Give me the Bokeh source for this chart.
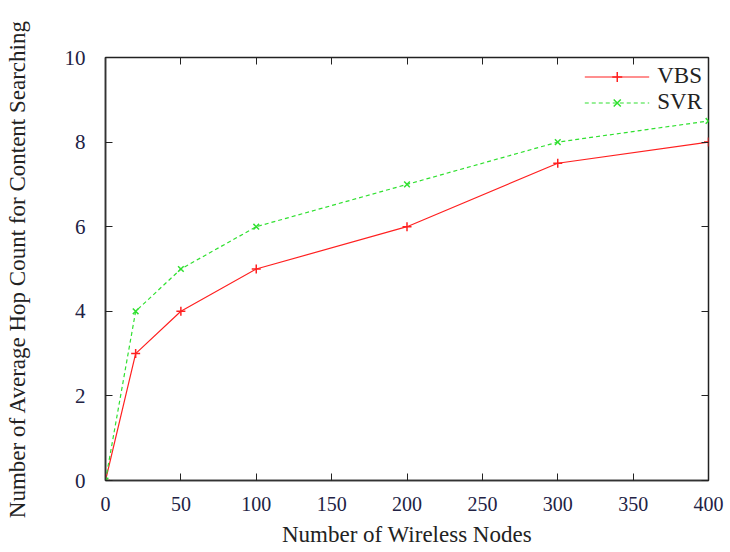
from bokeh.plotting import figure
from bokeh.models import Range1d, LinearAxis, FixedTicker, Legend, LegendItem, CustomJSTickFormatter
from bokeh.embed import file_html
from bokeh.resources import INLINE

nodes = [0, 20, 50, 100, 200, 300, 400]
vbs = [0, 3, 4, 5, 6, 7.5, 8]
svr = [0, 4, 5, 6, 7, 8, 8.5]
x_ticks = [0, 50, 100, 150, 200, 250, 300, 350, 400]
y_ticks = [0, 2, 4, 6, 8, 10]

W, H = 724, 552
p = figure(width=W, height=H, output_backend="svg", toolbar_location=None,
           x_range=Range1d(0, 400), y_range=Range1d(0, 10),
           min_border_left=105, min_border_right=W - 708, min_border_top=57,
           min_border_bottom=H - 480)
p.xgrid.visible = False
p.ygrid.visible = False
p.outline_line_color = "#222222"
p.outline_line_width = 1.5

serif = "Liberation Serif"

for ax in (p.xaxis[0], p.yaxis[0]):
    ax.major_tick_in = 7
    ax.major_tick_out = 0
    ax.minor_tick_line_color = None
    ax.axis_line_color = "#333333"
    ax.axis_line_width = 1.5
    ax.major_tick_line_color = "#222222"
    ax.axis_label_text_font_style = "normal"
    ax.axis_label_text_font = serif
    ax.axis_label_text_font_size = "23px"
    ax.axis_label_text_color = "#222222"
    ax.major_label_text_color = "#222244"
    ax.major_label_text_font = serif

p.xaxis[0].ticker = FixedTicker(ticks=x_ticks)
p.yaxis[0].ticker = FixedTicker(ticks=y_ticks)
p.xaxis[0].major_label_text_font_size = "20px"
p.yaxis[0].major_label_text_font_size = "21px"
p.xaxis[0].major_label_standoff = 16
p.yaxis[0].major_label_standoff = 20
p.xaxis[0].axis_label = "Number of Wireless Nodes"
p.yaxis[0].axis_label = "Number of Average Hop Count for Content Searching"
p.xaxis[0].axis_label_standoff = 8
p.yaxis[0].axis_label_standoff = 32

blank = CustomJSTickFormatter(code="return ''")
top = LinearAxis(ticker=FixedTicker(ticks=x_ticks), formatter=blank,
                 major_tick_in=7, major_tick_out=0, minor_tick_line_color=None,
                 axis_line_color=None, major_label_standoff=0, major_tick_line_color="#222222")
right = LinearAxis(ticker=FixedTicker(ticks=y_ticks), formatter=blank,
                   major_tick_in=7, major_tick_out=0, minor_tick_line_color=None,
                   axis_line_color=None, major_label_standoff=0, major_tick_line_color="#222222")
p.add_layout(top, "above")
p.add_layout(right, "right")

l1 = p.line(nodes, vbs, line_color="#ff2020", line_width=1.2)
m1 = p.scatter(nodes, vbs, marker="cross", size=9, line_color="#ff2020", line_width=1.5)
l2 = p.line(nodes, svr, line_color="#30e030", line_width=1.2, line_dash="4 3")
m2 = p.scatter(nodes, svr, marker="x", size=8, line_color="#30e030", line_width=1.5)

legend = Legend(items=[LegendItem(label="VBS", renderers=[l1, m1]),
                       LegendItem(label="SVR", renderers=[l2, m2])],
                location="top_right", border_line_color=None, background_fill_alpha=0,
                label_text_font=serif, label_text_font_size="23px", glyph_width=65,
                label_text_color="#222222", spacing=0, margin=6, padding=0,
                label_standoff=8, label_height=25, glyph_height=25)
p.add_layout(legend)

open("out.html", "w").write(file_html(p, INLINE))
